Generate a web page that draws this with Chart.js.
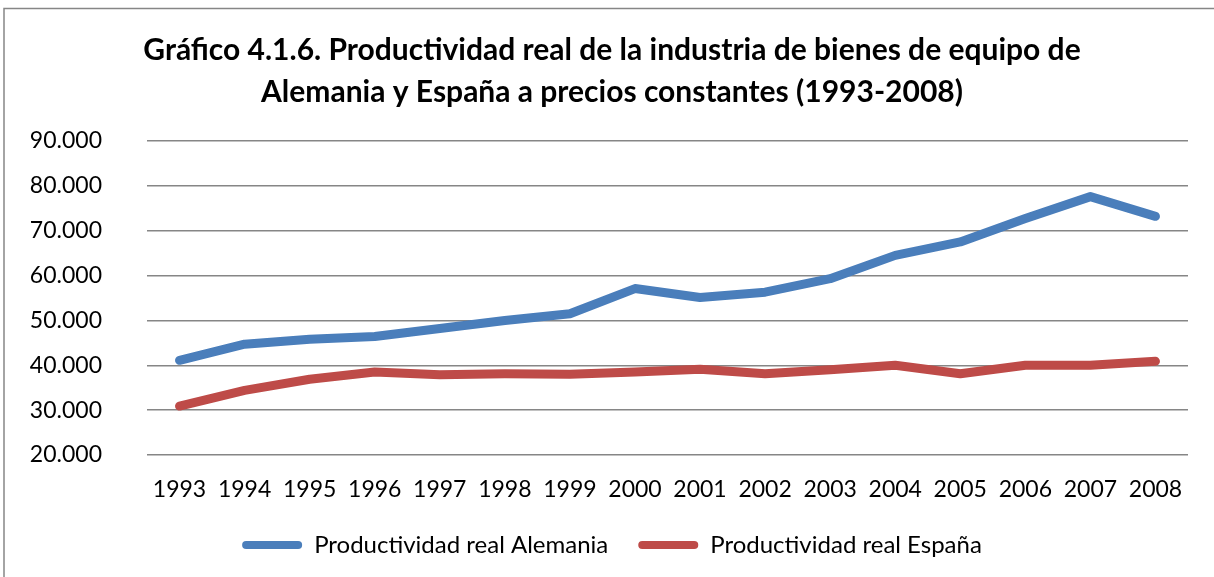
<!DOCTYPE html>
<html>
<head>
<meta charset="utf-8">
<script src="https://cdn.jsdelivr.net/npm/chart.js@4/dist/chart.umd.min.js"></script>
<style>
  html, body { margin: 0; padding: 0; background: #fff; }
  #wrap { position: relative; width: 1214px; height: 577px; }
</style>
</head>
<body>
<div id="wrap"><canvas id="c" width="1214" height="577"></canvas></div>
<script>
const years = ['1993','1994','1995','1996','1997','1998','1999','2000','2001','2002','2003','2004','2005','2006','2007','2008'];
const alemania = [41100, 44700, 45800, 46400, 48200, 50000, 51500, 57100, 55100, 56300, 59300, 64500, 67500, 72700, 77600, 73200];
const espana = [30900, 34400, 36900, 38500, 37900, 38100, 38000, 38500, 39100, 38100, 39000, 40000, 38100, 40000, 40000, 40900];
const seriesNames = ['Productividad real Alemania', 'Productividad real España'];
const titleLines = ['Gráfico 4.1.6. Productividad real de la industria de bienes de equipo de', 'Alemania y España a precios constantes (1993-2008)'];
const yMin = 20000, yMax = 90000, yStep = 10000;

const blue = '#4A7EBB';
const red = '#BE4B48';

const frame = {
  id: 'frame',
  beforeDraw(chart) {
    const ctx = chart.ctx;
    ctx.save();
    ctx.fillStyle = '#fff';
    ctx.fillRect(0, 0, chart.width, chart.height);
    ctx.strokeStyle = '#868686';
    ctx.lineWidth = 1.5;
    ctx.beginPath();
    ctx.moveTo(4, chart.height + 5);
    ctx.lineTo(4, 8.5);
    ctx.lineTo(chart.width + 5, 8.5);
    ctx.stroke();
    ctx.restore();
  }
};

new Chart(document.getElementById('c'), {
  type: 'line',
  data: {
    labels: years,
    datasets: [
      { label: seriesNames[0], data: alemania, borderColor: blue, backgroundColor: blue, borderWidth: 9, pointRadius: 0, borderCapStyle: 'round', borderJoinStyle: 'round', tension: 0 },
      { label: seriesNames[1], data: espana, borderColor: red, backgroundColor: red, borderWidth: 9, pointRadius: 0, borderCapStyle: 'round', borderJoinStyle: 'round', tension: 0 }
    ]
  },
  options: {
    responsive: false,
    animation: false,
    devicePixelRatio: 1,
    layout: { padding: { left: 10, right: 0, top: 0, bottom: 10 } },
    plugins: {
      title: {
        display: true,
        text: titleLines,
        color: '#000',
        font: { family: 'Lato', weight: 'bold', size: 30, lineHeight: 1.4 },
        padding: { top: 29, bottom: 28 }
      },
      legend: {
        position: 'bottom',
        labels: {
          color: '#000',
          font: { family: 'Lato', size: 24 },
          boxWidth: 60,
          boxHeight: 8,
          padding: 30,
          generateLabels(chart) {
            return chart.data.datasets.map((d, i) => ({
              text: d.label,
              fillStyle: d.borderColor,
              strokeStyle: d.borderColor,
              lineWidth: 0,
              borderRadius: 4,
              datasetIndex: i,
              fontColor: '#000'
            }));
          },
          useBorderRadius: true,
          borderRadius: 4
        }
      },
      tooltip: { enabled: false }
    },
    scales: {
      x: {
        offset: true,
        afterFit(scale) { scale.height = 48; },
        grid: { display: false, drawTicks: false },
        border: { display: false },
        ticks: { color: '#000', font: { family: 'Lato', size: 23 }, padding: 21, maxRotation: 0, autoSkip: false }
      },
      y: {
        min: yMin, max: yMax,
        afterFit(scale) { scale.width = 137; },
        grid: { color: '#868686', lineWidth: 1.5, drawTicks: false },
        border: { display: false },
        ticks: {
          stepSize: yStep,
          color: '#000',
          font: { family: 'Lato', size: 23 },
          padding: 45,
          callback: v => v.toLocaleString('de-DE', { minimumFractionDigits: 0 }).replace(/,/g, '.')
        }
      },
      yRight: {
        position: 'right',
        display: true,
        afterFit(scale) { scale.width = 26; },
        grid: { display: false, drawTicks: false },
        border: { display: false },
        ticks: { display: false }
      }
    }
  },
  plugins: [frame]
});
</script>
</body>
</html>
